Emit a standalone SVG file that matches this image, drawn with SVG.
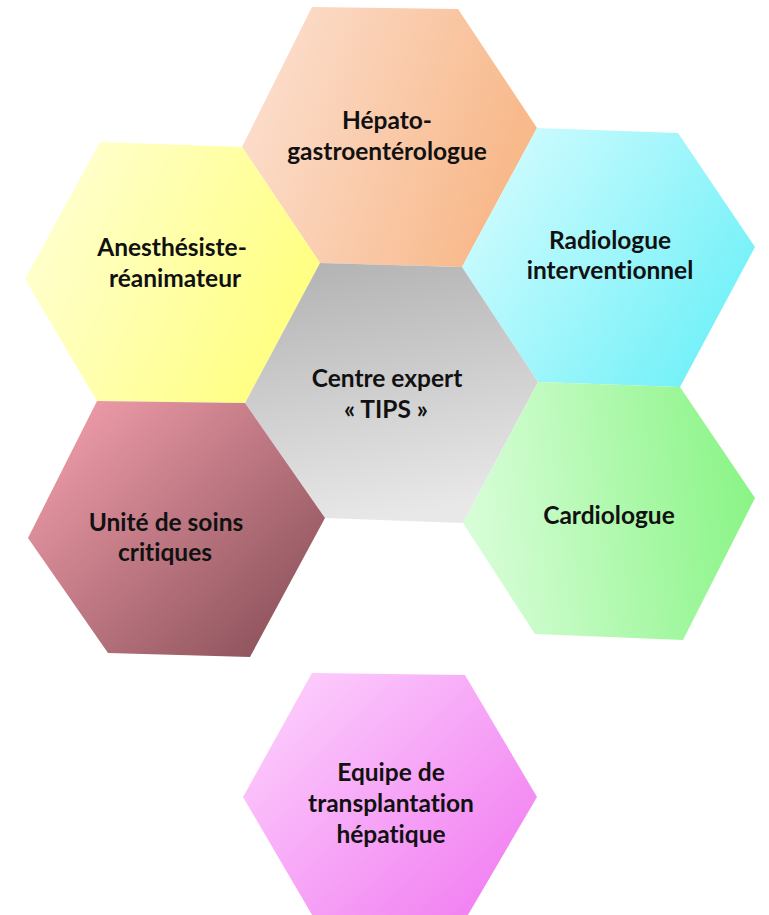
<svg xmlns="http://www.w3.org/2000/svg" width="769" height="915" viewBox="0 0 769 915">
<style>
.lbl{font-family:Lato,"Open Sans","Liberation Sans",sans-serif;font-weight:bold;font-size:24.5px;fill:#111;text-anchor:middle;font-variant-ligatures:none;font-feature-settings:"liga" 0,"dlig" 0}
</style>
<defs>
<linearGradient id="gOr" x1="0" y1="0" x2="1" y2="0.3"><stop offset="0" stop-color="#FCE2D4"/><stop offset="1" stop-color="#F8B98B"/></linearGradient>
<linearGradient id="gYe" x1="0" y1="0" x2="1" y2="0.4"><stop offset="0" stop-color="#FFFFDA"/><stop offset="1" stop-color="#FFFF84"/></linearGradient>
<linearGradient id="gCy" x1="0" y1="0" x2="1" y2="0.6"><stop offset="0" stop-color="#DCFDFF"/><stop offset="1" stop-color="#74F1F8"/></linearGradient>
<linearGradient id="gGr" x1="0.2" y1="0" x2="0.4" y2="1"><stop offset="0" stop-color="#B3B3B3"/><stop offset="1" stop-color="#E8E8E8"/></linearGradient>
<linearGradient id="gRe" x1="0" y1="0" x2="1" y2="0.9"><stop offset="0" stop-color="#F8A4B1"/><stop offset="1" stop-color="#874E57"/></linearGradient>
<linearGradient id="gGn" x1="0" y1="0.1" x2="1" y2="0"><stop offset="0" stop-color="#D6FDD6"/><stop offset="1" stop-color="#86F482"/></linearGradient>
<linearGradient id="gPk" x1="0" y1="0" x2="1" y2="0.9"><stop offset="0" stop-color="#FDD6FD"/><stop offset="1" stop-color="#F17AF1"/></linearGradient>
</defs>
<g id="connectors"></g>
<g id="n-hepato">
<polygon points="312,7 458,9 537,128 462,267 320,263 242,147" fill="url(#gOr)"/>
<text class="lbl" x="387" y="129">Hépato-</text>
<text class="lbl" x="387" y="160">gastroentérologue</text>
</g>
<g id="n-anesth">
<polygon points="100,142 242,147 320,263 245,403 97,401 25,279" fill="url(#gYe)"/>
<text class="lbl" x="172" y="256">Anesthésiste-</text>
<text class="lbl" x="175" y="287">réanimateur</text>
</g>
<g id="n-radio">
<polygon points="537,128 678,133 755,247 680,387 538,382 462,267" fill="url(#gCy)"/>
<text class="lbl" x="610" y="249">Radiologue</text>
<text class="lbl" x="610" y="279">interventionnel</text>
</g>
<g id="n-centre">
<polygon points="320,263 462,267 538,382 463,523 325,518 245,403" fill="url(#gGr)"/>
<text class="lbl" x="387" y="387">Centre expert</text>
<text class="lbl" x="386" y="418">« TIPS »</text>
</g>
<g id="n-usc">
<polygon points="97,401 245,403 325,518 250,657 108,653 28,538" fill="url(#gRe)"/>
<text class="lbl" x="166" y="531">Unité de soins</text>
<text class="lbl" x="165" y="561">critiques</text>
</g>
<g id="n-cardio">
<polygon points="538,382 680,387 755,498 683,640 535,634 463,523" fill="url(#gGn)"/>
<text class="lbl" x="609" y="524">Cardiologue</text>
</g>
<g id="n-transplant">
<polygon points="312,673 465,675 537,797 465,920 315,920 243,797" fill="url(#gPk)"/>
<text class="lbl" x="391" y="781">Equipe de</text>
<text class="lbl" x="391" y="812">transplantation</text>
<text class="lbl" x="391" y="843">hépatique</text>
</g>
</svg>
